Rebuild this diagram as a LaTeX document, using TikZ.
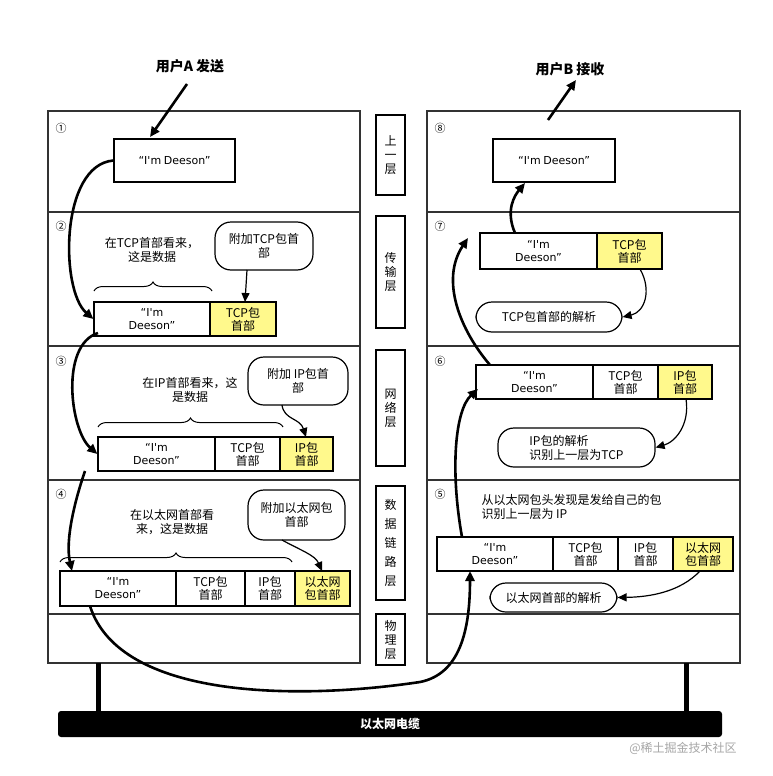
\documentclass[tikz,border=0pt]{standalone}
\usepackage{fontspec}
\setmainfont{Noto Sans CJK SC}
\newfontfamily\lat{DejaVu Sans}
\usetikzlibrary{arrows.meta,decorations.pathreplacing}
\tikzset{
 panel/.style={draw=black!80,line width=1.2pt},
 cell/.style={draw=black,line width=1.3pt,fill=white,inner sep=0pt,align=center,font=\fontsize{12}{13}\selectfont},
 hcell/.style={cell,fill=yellow!45},
 call/.style={draw=black,line width=1.2pt,rounded corners=16pt,fill=white,inner sep=0pt,align=center,font=\fontsize{12}{14}\selectfont},
 lbl/.style={align=center,font=\fontsize{12}{14}\selectfont},
 flow/.style={line width=2.6pt,-{Triangle[length=10pt,width=9pt]}},
 thin/.style={line width=1.2pt,-{Triangle[length=9pt,width=8pt]}},
 brc/.style={decorate,decoration={brace,amplitude=9pt},line width=1pt},
 num/.style={font=\fontsize{11}{11}\selectfont},
 mid/.style={draw=black,line width=1.2pt,inner sep=0pt,align=center,font=\fontsize{12}{16}\selectfont},
}
\newcommand{\im}{{\lat\fontsize{11}{13}\selectfont “I'm}}
\newcommand{\dee}{{\lat\fontsize{11}{13}\selectfont Deeson”}}
\newcommand{\cbox}[6]{\node[#1,minimum width=#4-#3,minimum height=#6-#5] (#2) at ({(#3+#4)/2},{(#5+#6)/2})}
\begin{document}
\begin{tikzpicture}[x=1pt,y=-1pt]
\useasboundingbox (0,0) rectangle (772,776);
\fill[white] (0,0) rectangle (772,776);
% panels
\draw[panel] (48,111) rectangle (360,663);
\draw[panel] (427,111) rectangle (740,663);
\foreach \y in {212,346,480,614}{\draw[panel] (48,\y)--(360,\y); \draw[panel] (427,\y)--(740,\y);}
% middle labels
\cbox{mid}{m1}{376}{405}{115}{195}{}; \node[lbl] at (m1) {上\\一\\层};
\cbox{mid}{m2}{376}{405}{216}{328}{}; \node[lbl] at (m2) {传\\输\\层};
\cbox{mid}{m3}{376}{405}{350}{466}{}; \node[lbl] at (m3) {网\\络\\层};
\cbox{mid}{m4}{376}{405}{486}{600}{}; \node[lbl,font=\fontsize{12}{19}\selectfont] at (m4) {数\\据\\链\\路\\层};
\cbox{mid}{m5}{376}{405}{614}{665}{}; \node[lbl] at (m5) {物\\理\\层};
% cable
\draw[line width=5pt] (98,663)--(98,711) (686,663)--(686,711);
\node[fill=black,rounded corners=3pt,minimum width=664,minimum height=26,text=white,font=\bfseries\fontsize{12}{12}\selectfont] (cable) at (390,724) {以太网电缆};
% titles
\node[font=\bfseries\fontsize{14}{14}\selectfont] (ua) at (190,66) {用户A 发送};
\node[font=\bfseries\fontsize{14}{14}\selectfont] (ub) at (570,69) {用户B 接收};
% numbers
\node[num] (n1) at (61,128) {①}; \node[num] (n2) at (61,226) {②};
\node[num] (n3) at (61,361) {③}; \node[num] (n4) at (61,494) {④};
\node[num] (n8) at (440,128) {⑧}; \node[num] (n7) at (440,226) {⑦};
\node[num] (n6) at (440,361) {⑥}; \node[num] (n5) at (440,494) {⑤};
% left side
\cbox{cell}{a1}{114}{235}{139}{182}{\im{} \dee};
\cbox{cell}{a2d}{94}{210}{302}{336}{\im\\\dee};
\cbox{hcell}{a2t}{210}{276}{302}{336}{TCP包\\首部};
\draw[brc] (94,291)--(212,291);
\node[lbl] (t2) at (152,250) {在TCP首部看来，\\这是数据};
\cbox{call}{c2}{215}{313}{222}{270}{附加TCP包首\\部};
\draw[thin] (247,270) -- (245,302);
\cbox{cell}{a3d}{98}{215}{437}{471}{\im\\\dee};
\cbox{cell}{a3t}{215}{280}{437}{471}{TCP包\\首部};
\cbox{hcell}{a3i}{280}{333}{437}{471}{IP包\\首部};
\draw[brc] (98,427)--(283,427);
\node[lbl] (t3) at (190,390) {在IP首部看来，这\\是数据};
\cbox{call}{c3}{248}{348}{357}{405}{附加 IP包首\\部};
\draw[thin] (282,405) .. controls (284,420) and (300,418) .. (306,437);
\cbox{cell}{a4d}{60}{176}{571}{606}{\im\\\dee};
\cbox{cell}{a4t}{176}{245}{571}{606}{TCP包\\首部};
\cbox{cell}{a4i}{245}{295}{571}{606}{IP包\\首部};
\cbox{hcell}{a4e}{295}{350}{571}{606}{以太网\\包首部};
\draw[brc] (60,562)--(292,562);
\node[lbl] (t4) at (172,522) {在以太网首部看\\来，这是数据};
\cbox{call}{c4}{248}{345}{490}{540}{附加以太网包\\首部};
\draw[thin] (282,540) .. controls (300,550) and (315,555) .. (322,571);
% right side
\cbox{cell}{b8}{493}{615}{139}{182}{\im{} \dee};
\cbox{cell}{b7d}{480}{597}{233}{269}{\im\\\dee};
\cbox{hcell}{b7t}{597}{662}{233}{269}{TCP包\\首部};
\cbox{call}{d7}{476}{622}{302}{332}{TCP包首部的解析};
\draw[thin] (640,269) .. controls (652,290) and (645,312) .. (d7.east);
\cbox{cell}{b6d}{476}{593}{365}{399}{\im\\\dee};
\cbox{cell}{b6t}{593}{658}{365}{399}{TCP包\\首部};
\cbox{hcell}{b6i}{658}{712}{365}{399}{IP包\\首部};
\node[call,minimum width=157,minimum height=39,align=left] (d6) at (576.5,447.5) {IP包的解析\\识别上一层为TCP};
\draw[thin] (686,399) .. controls (690,425) and (675,442) .. (d6.east);
\node[lbl,align=left,anchor=west] (t5) at (478,507) {从以太网包头发现是发给自己的包\\识别上一层为 IP};
\cbox{cell}{b5d}{437}{553}{537}{571}{\im\\\dee};
\cbox{cell}{b5t}{553}{618}{537}{571}{TCP包\\首部};
\cbox{cell}{b5i}{618}{673}{537}{571}{IP包\\首部};
\cbox{hcell}{b5e}{673}{733}{537}{571}{以太网\\包首部};
\cbox{call}{d5}{490}{617}{583}{612}{以太网首部的解析};
\draw[thin] (700,571) .. controls (680,592) and (650,597) .. (d5.east);
% flow arrows
\draw[flow] (187,84) -- (150,137);
\draw[flow] (a1.west) .. controls (60,165) and (60,290) .. (a2d.west);
\draw[flow] (98,333) .. controls (60,345) and (70,430) .. (a3d.west);
\draw[flow] (85,471) .. controls (75,500) and (65,540) .. (72,571);
\draw[flow] (90,606) .. controls (120,700) and (300,700) .. (420,682) .. controls (460,674) and (470,630) .. (470,571);
\draw[flow] (462,537) .. controls (450,470) and (455,410) .. (478,389);
\draw[flow] (490,365) .. controls (460,330) and (440,280) .. (468,238);
\draw[flow] (515,233) .. controls (505,210) and (515,195) .. (525,183);
\draw[flow] (548,120) -- (576,80);
\node[text=black!35,font=\fontsize{12}{12}\selectfont] (wm) at (683,748) {@稀土掘金技术社区};
\end{tikzpicture}
\end{document}
